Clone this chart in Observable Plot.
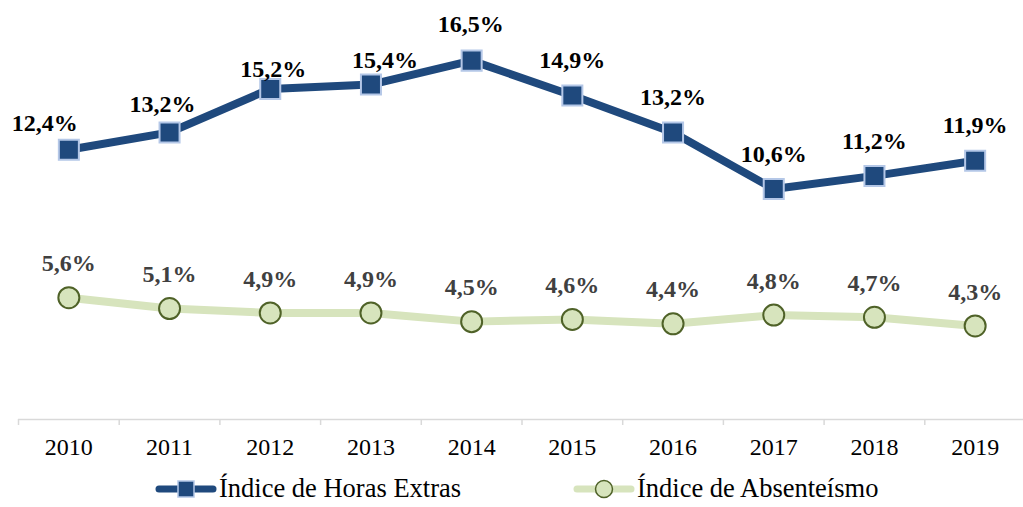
<!DOCTYPE html>
<html>
<head>
<meta charset="utf-8">
<script src="https://cdn.jsdelivr.net/npm/d3@7"></script>
<script src="https://cdn.jsdelivr.net/npm/@observablehq/plot@0.6"></script>
<style>
  html, body { margin: 0; padding: 0; background: #fff; }
  #chart { width: 1023px; height: 507px; position: relative; overflow: hidden; font-family: "Liberation Serif", "Times New Roman", serif; }
  .legend { position: relative; height: 37px; }
  .item { position: absolute; top: 0; height: 37px; display: flex; align-items: center; font-size: 26.5px; color: #000; white-space: nowrap; }
  .item svg { display: block; margin-right: 2px; }
</style>
</head>
<body>
<div id="chart"></div>
<script>
// ---- data ----
const years = [2010, 2011, 2012, 2013, 2014, 2015, 2016, 2017, 2018, 2019];
const horasExtras = [12.4, 13.2, 15.2, 15.4, 16.5, 14.9, 13.2, 10.6, 11.2, 11.9];
const absenteismo = [5.6, 5.1, 4.9, 4.9, 4.5, 4.6, 4.4, 4.8, 4.7, 4.3];
const seriesNames = ["Índice de Horas Extras", "Índice de Absenteísmo"];

// ---- style ----
const blue = "#1f497d", blueEdge = "#b4c7e7";
const green = "#d7e4bd", greenEdge = "#4f6228";
const fontFamily = '"Liberation Serif", "Times New Roman", serif';
// label nudges (dx, dy) for the upper series, as placed in the original
const topNudge = [[-24,-26],[-7,-28],[3,-20],[14,-24],[-1,-36],[0,-35],[0,-35],[0,-35],[0,-35],[0,-35]];

const fmt = v => v.toFixed(1).replace(".", ",") + "%";
const rowsTop = years.map((y, i) => ({year: y, value: horasExtras[i]}));
const rowsBot = years.map((y, i) => ({year: y, value: absenteismo[i]}));
const bounds = [years[0] - 0.5, ...years.map(y => y + 0.5)];

const plot = Plot.plot({
  width: 1023,
  height: 470,
  marginLeft: 0,
  marginRight: 0,
  marginTop: 27.5,
  marginBottom: 51,
  style: {fontFamily, background: "#fff", overflow: "visible"},
  x: {domain: [bounds[0], bounds[bounds.length - 1]], range: [18, 1025], axis: null, label: null},
  y: {domain: [0, 18], axis: null, label: null},
  marks: [
    Plot.ruleY([0], {x1: bounds[0], x2: bounds[bounds.length - 1], stroke: "#d9d9d9", strokeWidth: 1.5}),
    Plot.axisX({ticks: bounds, text: null, label: null, tickSize: 6, stroke: "#d9d9d9", strokeWidth: 1.5}),
    Plot.text(years, {x: d => d, y: 0, dy: 28, text: d => String(d), fontSize: 24, fill: "#000"}),
    Plot.line(rowsBot, {x: "year", y: "value", stroke: green, strokeWidth: 8}),
    Plot.dot(rowsBot, {x: "year", y: "value", r: 10.5, fill: green, stroke: greenEdge, strokeWidth: 2}),
    Plot.text(rowsBot, {x: "year", y: "value", dy: -34, text: d => fmt(d.value), fontSize: 24, fontWeight: "bold", fill: "#404040"}),
    Plot.line(rowsTop, {x: "year", y: "value", stroke: blue, strokeWidth: 8}),
    Plot.dot(rowsTop, {x: "year", y: "value", symbol: "square", r: 11.3, fill: blue, stroke: blueEdge, strokeWidth: 2}),
    ...rowsTop.map((d, i) => Plot.text([d], {x: "year", y: "value", dx: topNudge[i][0], dy: topNudge[i][1], text: d => fmt(d.value), fontSize: 24, fontWeight: "bold", fill: "#000"}))
  ]
});

const chart = document.getElementById("chart");
chart.appendChild(plot);

const legend = document.createElement("div");
legend.className = "legend";
legend.innerHTML = `
  <div class="item" style="left:155px">
    <svg width="62" height="20" viewBox="0 0 62 20">
      <line x1="4" y1="10" x2="58" y2="10" stroke="${blue}" stroke-width="7" stroke-linecap="round"/>
      <rect x="23" y="2" width="16" height="16" fill="${blue}" stroke="${blueEdge}" stroke-width="1.5"/>
    </svg><span>${seriesNames[0]}</span>
  </div>
  <div class="item" style="left:573px">
    <svg width="62" height="20" viewBox="0 0 62 20">
      <line x1="4" y1="10" x2="58" y2="10" stroke="${green}" stroke-width="7" stroke-linecap="round"/>
      <circle cx="31" cy="10" r="8.5" fill="${green}" stroke="${greenEdge}" stroke-width="1.5"/>
    </svg><span>${seriesNames[1]}</span>
  </div>`;
chart.appendChild(legend);
</script>
</body>
</html>
